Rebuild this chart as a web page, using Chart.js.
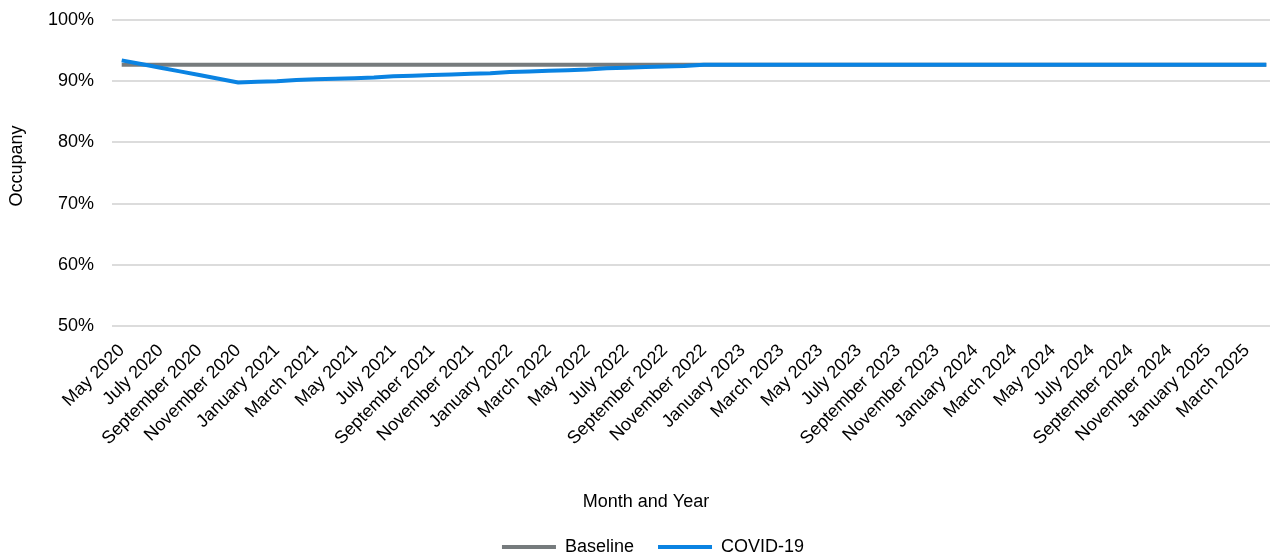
<!DOCTYPE html>
<html>
<head>
<meta charset="utf-8">
<script src="https://cdn.jsdelivr.net/npm/chart.js@4/dist/chart.umd.min.js"></script>
<style>
  html, body { margin: 0; padding: 0; background: #fff; overflow: hidden; }
  #wrap { width: 1270px; height: 557px; overflow: hidden; }
  canvas { display: block; }
</style>
</head>
<body>
<div id="wrap"><canvas id="c" width="1276" height="566"></canvas></div>
<script>
// Monthly categories, May 2020 – April 2025
const months = [
  'May 2020','June 2020','July 2020','August 2020','September 2020','October 2020','November 2020','December 2020',
  'January 2021','February 2021','March 2021','April 2021','May 2021','June 2021','July 2021','August 2021',
  'September 2021','October 2021','November 2021','December 2021','January 2022','February 2022','March 2022','April 2022',
  'May 2022','June 2022','July 2022','August 2022','September 2022','October 2022','November 2022','December 2022',
  'January 2023','February 2023','March 2023','April 2023','May 2023','June 2023','July 2023','August 2023',
  'September 2023','October 2023','November 2023','December 2023','January 2024','February 2024','March 2024','April 2024',
  'May 2024','June 2024','July 2024','August 2024','September 2024','October 2024','November 2024','December 2024',
  'January 2025','February 2025','March 2025','April 2025'
];

// Occupancy (%) per month
const baseline = [
  92.7,92.7,92.7,92.7,92.7,92.7,92.7,92.7,92.7,92.7,92.7,92.7,92.7,92.7,92.7,92.7,92.7,92.7,92.7,92.7,
  92.7,92.7,92.7,92.7,92.7,92.7,92.7,92.7,92.7,92.7,92.7,92.7,92.7,92.7,92.7,92.7,92.7,92.7,92.7,92.7,
  92.7,92.7,92.7,92.7,92.7,92.7,92.7,92.7,92.7,92.7,92.7,92.7,92.7,92.7,92.7,92.7,92.7,92.7,92.7,92.7
];
const covid19 = [
  93.4,92.8,92.2,91.6,91.0,90.4,89.8,
  89.9,90.0,90.2,90.3,90.4,90.5,90.6,90.8,90.9,91.0,91.1,91.2,
  91.3,91.5,91.6,91.7,91.8,91.9,92.1,92.2,92.3,92.4,92.5,92.7,
  92.7,92.7,92.7,92.7,92.7,92.7,92.7,92.7,92.7,92.7,92.7,92.7,92.7,92.7,
  92.7,92.7,92.7,92.7,92.7,92.7,92.7,92.7,92.7,92.7,92.7,92.7,92.7,92.7,92.7
];

const yTicks = [50, 60, 70, 80, 90, 100];

const FONT = "'Liberation Sans', Arial, sans-serif";
const GREY = '#767b7d';
const BLUE = '#0a83e2';

// Small placement tweaks: legend a bit right of centre, axis titles offset from the plot centre
const placement = {
  id: 'placement',
  afterLayout(chart) {
    if (chart.legend) { chart.legend.left += 15; chart.legend.right += 15; }
    const shiftTitle = (scale, dx, dy) => {
      if (scale._titleShifted) return;
      scale._titleShifted = true;
      const draw = scale.drawTitle;
      scale.drawTitle = function () {
        const l = this.left, r = this.right, t = this.top, b = this.bottom;
        this.left += dx; this.right += dx; this.top += dy; this.bottom += dy;
        draw.call(this);
        this.left = l; this.right = r; this.top = t; this.bottom = b;
      };
    };
    shiftTitle(chart.scales.x, -48, 0);
    shiftTitle(chart.scales.y, 0, -7);
  }
};

new Chart(document.getElementById('c'), {
  type: 'line',
  data: {
    labels: months,
    datasets: [
      { label: 'Baseline', data: baseline, borderColor: GREY, backgroundColor: GREY,
        borderWidth: 4, pointRadius: 0, tension: 0, order: 1 },
      { label: 'COVID-19', data: covid19, borderColor: BLUE, backgroundColor: BLUE,
        borderWidth: 4, pointRadius: 0, tension: 0, order: 0 }
    ]
  },
  plugins: [placement],
  options: {
    responsive: false,
    animation: false,
    layout: { padding: { top: 20, left: 0, right: 0, bottom: 0 } },
    plugins: {
      tooltip: { enabled: false },
      legend: {
        position: 'bottom',
        labels: {
          font: { family: FONT, size: 18 },
          color: '#000',
          boxWidth: 54,
          boxHeight: 4,
          padding: 24,
          sort: (a, b) => a.datasetIndex - b.datasetIndex,
          generateLabels(chart) {
            const items = Chart.defaults.plugins.legend.labels.generateLabels(chart);
            items.forEach(it => { it.lineWidth = 0; it.fillStyle = it.strokeStyle; });
            return items;
          }
        }
      }
    },
    scales: {
      x: {
        offset: true,
        grid: { display: false, drawTicks: false },
        border: { display: false },
        ticks: {
          autoSkip: false,
          maxRotation: 45,
          minRotation: 45,
          padding: 14,
          color: '#000',
          font: { family: FONT, size: 18 },
          callback(value, index) { return index % 2 === 0 ? months[index] : ''; }
        },
        title: {
          display: true,
          text: 'Month and Year',
          color: '#000',
          font: { family: FONT, size: 18 },
          padding: { top: 0, bottom: 1 }
        },
        afterFit(scale) {
          scale.height = 188;
          scale.paddingLeft = 0;
          scale.paddingRight = 0;
        }
      },
      y: {
        min: 50,
        max: 100,
        afterBuildTicks(scale) { scale.ticks = yTicks.map(v => ({ value: v })); },
        grid: { color: '#dcdcdc', lineWidth: 2, drawTicks: false },
        border: { display: false },
        ticks: {
          padding: 18,
          color: '#000',
          font: { family: FONT, size: 18 },
          callback: v => v + '%'
        },
        title: {
          display: true,
          text: 'Occupany',
          color: '#000',
          font: { family: FONT, size: 18 },
          padding: { top: 6, bottom: 0 }
        },
        afterFit(scale) {
          scale.width = 112;
          scale.paddingTop = 0;
          scale.paddingBottom = 0;
        }
      }
    }
  }
});
</script>
</body>
</html>
